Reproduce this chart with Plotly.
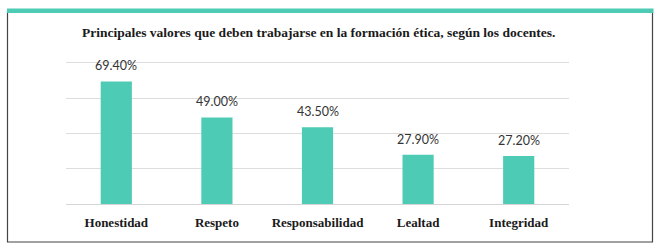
import plotly.graph_objects as go

categories = ["Honestidad", "Respeto", "Responsabilidad", "Lealtad", "Integridad"]
values = [69.4, 49.0, 43.5, 27.9, 27.2]
value_labels = ["69.40%", "49.00%", "43.50%", "27.90%", "27.20%"]
title_text = "Principales valores que deben trabajarse en la formación ética, según los docentes."

W, H = 661, 248
L, R, T, B = 66, 92, 61, 44
pw, ph = W - L - R, H - T - B

def px_x(px):
    return (px - L) / pw

def px_y(py):
    return (H - B - py) / ph

teal = "#4ECBB5"

fig = go.Figure()
fig.add_trace(go.Bar(
    x=categories, y=values,
    marker=dict(color=teal, line=dict(width=0)),
    width=0.31,
    hoverinfo="skip",
))

for c, v, t in zip(categories, values, value_labels):
    fig.add_annotation(x=c, y=v, text=t, showarrow=False, yanchor="bottom", yshift=6,
                       font=dict(family="Lato, sans-serif", size=12.5, color="#333333"))

fig.add_annotation(x=px_x(318), y=px_y(32), xref="paper", yref="paper", text="<b>" + title_text + "</b>",
                   showarrow=False, xanchor="center", yanchor="middle",
                   font=dict(family="Liberation Serif, serif", size=13.5, color="#1a1a1a"))

# outer box
fig.add_shape(type="rect", xref="paper", yref="paper",
              x0=px_x(7.5), x1=px_x(652.5), y0=px_y(242), y1=px_y(12),
              line=dict(color="#444444", width=1.2), fillcolor="rgba(0,0,0,0)", layer="below")
# teal top band
fig.add_shape(type="rect", xref="paper", yref="paper",
              x0=px_x(7), x1=px_x(653.5), y0=px_y(13), y1=px_y(8.5),
              line=dict(width=0), fillcolor=teal)

fig.update_layout(
    width=W, height=H,
    margin=dict(l=L, r=R, t=T, b=B),
    paper_bgcolor="white", plot_bgcolor="white",
    showlegend=False,
    xaxis=dict(showgrid=False, showline=False, ticks="", ticklen=0, ticklabelstandoff=9,
               tickfont=dict(family="Liberation Serif, serif", size=13, color="#1a1a1a"),
               tickprefix="<b>", ticksuffix="</b>", fixedrange=True),
    yaxis=dict(range=[0, 81], tickvals=[0, 20, 40, 60, 80], showgrid=True, gridcolor="#dddddd", gridwidth=1,
               showticklabels=False, zeroline=True, zerolinecolor="#d5d5d5", zerolinewidth=1,
               showline=False, fixedrange=True),
)

fig.write_html("out.html", config={"displayModeBar": False},
               post_script="document.body.style.margin='0px';document.body.style.overflow='hidden';")
